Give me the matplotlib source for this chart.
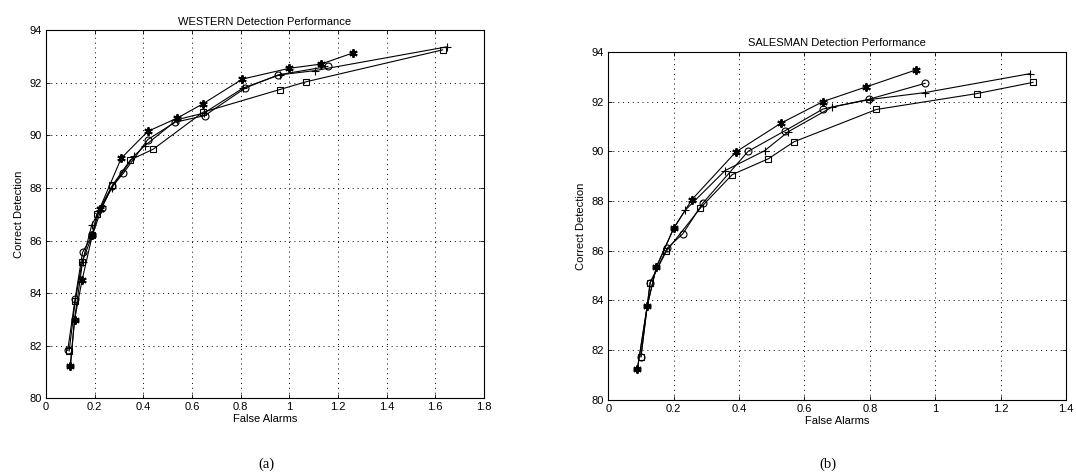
import matplotlib.pyplot as plt

# WESTERN panel (a)
w_star_x = [0.10, 0.117, 0.148, 0.19, 0.22, 0.309, 0.418, 0.54, 0.645, 0.807, 1.0, 1.13, 1.26]
w_star_y = [81.23, 82.98, 84.49, 86.2, 87.2, 89.13, 90.15, 90.66, 91.2, 92.14, 92.55, 92.71, 93.13]
w_circ_x = [0.089, 0.119, 0.15, 0.19, 0.229, 0.272, 0.318, 0.418, 0.531, 0.652, 0.819, 0.954, 1.158]
w_circ_y = [81.82, 83.76, 85.55, 86.2, 87.24, 88.06, 88.56, 89.84, 90.5, 90.75, 91.8, 92.3, 92.62]
w_plus_x = [0.10, 0.117, 0.15, 0.188, 0.23, 0.27, 0.36, 0.405, 0.54, 0.65, 0.81, 0.96, 1.104, 1.65]
w_plus_y = [81.23, 82.98, 85.2, 86.6, 87.3, 88.0, 89.2, 89.6, 90.6, 90.85, 91.8, 92.3, 92.46, 93.37]
w_sq_x = [0.095, 0.12, 0.148, 0.19, 0.208, 0.273, 0.347, 0.44, 0.645, 0.96, 1.07, 1.63]
w_sq_y = [81.8, 83.7, 85.18, 86.2, 87.0, 88.1, 89.07, 89.47, 90.88, 91.74, 92.04, 93.25]

# SALESMAN panel (b)
s_star_x = [0.089, 0.119, 0.147, 0.2, 0.256, 0.39, 0.527, 0.657, 0.787, 0.941]
s_star_y = [81.24, 83.77, 85.34, 86.9, 88.06, 89.97, 91.12, 92.0, 92.58, 93.27]
s_circ_x = [0.1, 0.128, 0.18, 0.228, 0.289, 0.428, 0.54, 0.657, 0.797, 0.969]
s_circ_y = [81.74, 84.72, 86.1, 86.68, 87.91, 90.0, 90.82, 91.7, 92.09, 92.73]
s_plus_x = [0.089, 0.119, 0.147, 0.2, 0.236, 0.357, 0.478, 0.551, 0.685, 0.80, 0.969, 1.29]
s_plus_y = [81.24, 83.77, 85.34, 86.9, 87.64, 89.22, 90.02, 90.79, 91.78, 92.08, 92.36, 93.12]
s_sq_x = [0.1, 0.128, 0.177, 0.282, 0.379, 0.49, 0.568, 0.82, 1.128, 1.299]
s_sq_y = [81.74, 84.7, 85.97, 87.72, 89.06, 89.7, 90.38, 91.68, 92.32, 92.77]

y_ticks = [80, 82, 84, 86, 88, 90, 92, 94]

plt.rcParams['font.family'] = ['Liberation Sans', 'DejaVu Sans']

fig = plt.figure(figsize=(10.76, 4.75), dpi=100)
ax1 = fig.add_axes([0.0428, 0.1615, 0.407, 0.775])
ax2 = fig.add_axes([0.5653, 0.158, 0.4254, 0.733])

asterisk = (6, 2, 0)


def draw_panel(ax, series, title, xmax, xticks, xticklabels):
    for x, y, m, ms in series:
        if m == asterisk:
            ax.plot(x, y, color='black', lw=0.8, marker=m, ms=ms,
                    mec='black', mew=1.4)
        else:
            ax.plot(x, y, color='black', lw=0.8, marker=m, ms=ms,
                    mfc='none', mec='black', mew=0.8)
    ax.set_xlim(0, xmax)
    ax.set_ylim(80, 94)
    ax.set_xticks(xticks)
    ax.set_xticklabels(xticklabels)
    ax.set_yticks(y_ticks)
    ax.grid(True, color='black', linestyle=(0, (1, 4)), linewidth=0.7)
    ax.tick_params(direction='in', top=True, right=True, labelsize=8,
                   length=3, width=0.6, pad=3)
    for sp in ax.spines.values():
        sp.set_linewidth(0.8)
    ax.set_title(title, fontsize=8, pad=4)
    ax.set_xlabel('False Alarms', fontsize=8, labelpad=1)
    ax.set_ylabel('Correct Detection', fontsize=8, labelpad=4)


draw_panel(ax1,
           [(w_plus_x, w_plus_y, '+', 6), (w_sq_x, w_sq_y, 's', 5),
            (w_circ_x, w_circ_y, 'o', 5), (w_star_x, w_star_y, asterisk, 6)],
           'WESTERN Detection Performance', 1.8,
           [0, 0.2, 0.4, 0.6, 0.8, 1.0, 1.2, 1.4, 1.6, 1.8],
           ['0', '0.2', '0.4', '0.6', '0.8', '1', '1.2', '1.4', '1.6', '1.8'])
draw_panel(ax2,
           [(s_plus_x, s_plus_y, '+', 6), (s_sq_x, s_sq_y, 's', 5),
            (s_circ_x, s_circ_y, 'o', 5), (s_star_x, s_star_y, asterisk, 6)],
           'SALESMAN Detection Performance', 1.4,
           [0, 0.2, 0.4, 0.6, 0.8, 1.0, 1.2, 1.4],
           ['0', '0.2', '0.4', '0.6', '0.8', '1', '1.2', '1.4'])

fig.text(0.2478, 0.015, '(a)', fontsize=10.5, family='Liberation Serif', ha='center')
fig.text(0.7695, 0.015, '(b)', fontsize=10.5, family='Liberation Serif', ha='center')

fig.savefig('out.png', dpi=100)
